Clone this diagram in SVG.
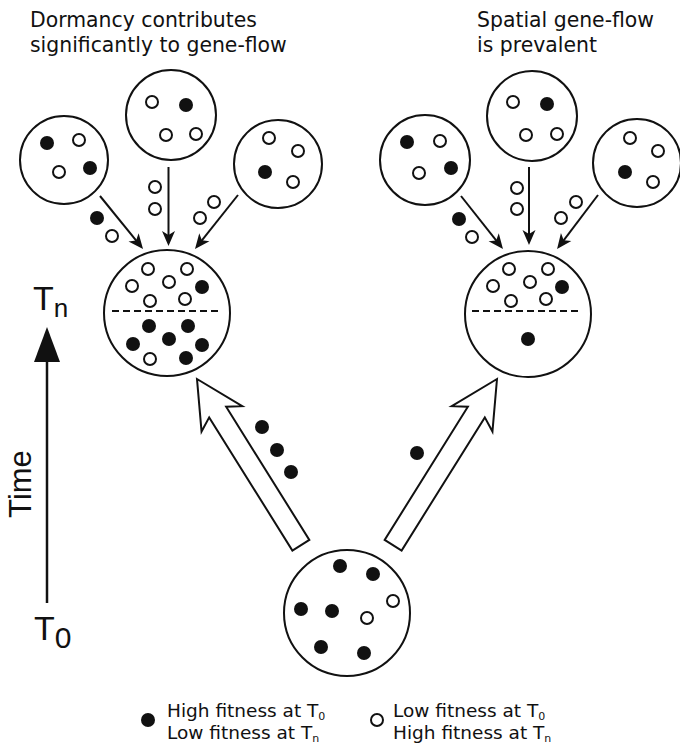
<svg xmlns="http://www.w3.org/2000/svg" width="680" height="746" viewBox="0 0 680 746">
<style>
.pop{fill:#fff;stroke:#111;stroke-width:2}
.f{fill:#111}
.o{fill:#fff;stroke:#111;stroke-width:2}
.ln{stroke:#111;stroke-width:2;fill:none}
.dash{stroke:#111;stroke-width:2;stroke-dasharray:7 4}
.big{fill:#fff;stroke:#111;stroke-width:2;stroke-linejoin:miter}
.t{font-family:"DejaVu Sans",sans-serif;fill:#111}
.a{font-family:"Liberation Sans",Arial,sans-serif;fill:#111}
</style>
<defs>
<marker id="ah" viewBox="-16 -7 17 14" refX="-4" refY="0" markerWidth="17" markerHeight="14" markerUnits="userSpaceOnUse" orient="auto">
<path d="M0,0 L-15,-6.5 L-11,0 L-15,6.5 Z" fill="#111"/>
</marker>
</defs>
<rect width="680" height="746" fill="#fff"/>

<!-- titles -->
<g id="title-left">
<text class="t" x="30" y="27" font-size="20.4">Dormancy contributes</text>
<text class="t" x="30" y="52" font-size="20.4">significantly to gene-flow</text>
</g>
<g id="title-right">
<text class="t" x="477" y="27" font-size="20.4">Spatial gene-flow</text>
<text class="t" x="477" y="52" font-size="20.4">is prevalent</text>
</g>

<!-- connectors -->
<g id="connectors">
<polygon class="big" points="0,0 24,47 10,39 10,196 -10,196 -10,39 -24,47" transform="translate(197,379) rotate(-32)"/>
<polygon class="big" points="0,0 24,47 10,39 10,196 -10,196 -10,39 -24,47" transform="translate(497,379) rotate(32)"/>
<line class="ln" x1="100" y1="196" x2="140.5" y2="245.9" marker-end="url(#ah)"/>
<line class="ln" x1="168.5" y1="167" x2="168.5" y2="242" marker-end="url(#ah)"/>
<line class="ln" x1="238" y1="195" x2="197.5" y2="245.8" marker-end="url(#ah)"/>
<line class="ln" x1="461" y1="196" x2="500.5" y2="245.9" marker-end="url(#ah)"/>
<line class="ln" x1="529" y1="167" x2="529" y2="241" marker-end="url(#ah)"/>
<line class="ln" x1="598" y1="195" x2="559.5" y2="245.8" marker-end="url(#ah)"/>
</g>

<!-- migrating individuals -->
<g id="migrants">
<circle class="f" cx="97" cy="218" r="7"/>
<circle class="o" cx="112" cy="236" r="6"/>
<circle class="o" cx="155" cy="187" r="6"/>
<circle class="o" cx="155" cy="209" r="6"/>
<circle class="o" cx="200" cy="218" r="6"/>
<circle class="o" cx="214" cy="202" r="6"/>
<circle class="f" cx="459" cy="219" r="7"/>
<circle class="o" cx="472" cy="237" r="6"/>
<circle class="o" cx="517" cy="188" r="6"/>
<circle class="o" cx="517" cy="209" r="6"/>
<circle class="o" cx="561" cy="218" r="6"/>
<circle class="o" cx="576" cy="202" r="6"/>
<circle class="f" cx="262" cy="427" r="7"/>
<circle class="f" cx="277" cy="450" r="7"/>
<circle class="f" cx="291" cy="472" r="7"/>
<circle class="f" cx="417" cy="453" r="7"/>
</g>

<!-- left group small populations -->
<g id="pop-L1">
<circle class="pop" cx="64" cy="160" r="44"/>
<circle class="f" cx="47" cy="143" r="7"/>
<circle class="o" cx="79" cy="140" r="6"/>
<circle class="o" cx="59" cy="172" r="6"/>
<circle class="f" cx="90" cy="168" r="7"/>
</g>
<g id="pop-L2">
<circle class="pop" cx="171" cy="115" r="45"/>
<circle class="o" cx="152" cy="102" r="6"/>
<circle class="f" cx="186" cy="105" r="7"/>
<circle class="o" cx="166" cy="135" r="6"/>
<circle class="o" cx="196" cy="134" r="6"/>
</g>
<g id="pop-L3">
<circle class="pop" cx="278" cy="164" r="44"/>
<circle class="o" cx="269" cy="138" r="6"/>
<circle class="o" cx="298" cy="151" r="6"/>
<circle class="f" cx="265" cy="172" r="7"/>
<circle class="o" cx="293" cy="182" r="6"/>
</g>

<!-- right group small populations -->
<g id="pop-R1">
<circle class="pop" cx="425" cy="160" r="45"/>
<circle class="f" cx="407" cy="142" r="7"/>
<circle class="o" cx="440" cy="141" r="6"/>
<circle class="o" cx="419" cy="173" r="6"/>
<circle class="f" cx="451" cy="168" r="7"/>
</g>
<g id="pop-R2">
<circle class="pop" cx="532" cy="116" r="45"/>
<circle class="o" cx="513" cy="102" r="6"/>
<circle class="f" cx="547" cy="104" r="7"/>
<circle class="o" cx="526" cy="135" r="6"/>
<circle class="o" cx="557" cy="134" r="6"/>
</g>
<g id="pop-R3">
<circle class="pop" cx="637" cy="163" r="44"/>
<circle class="o" cx="630" cy="138" r="6"/>
<circle class="o" cx="658" cy="151" r="6"/>
<circle class="f" cx="625" cy="172" r="7"/>
<circle class="o" cx="653" cy="182" r="6"/>
</g>

<!-- merged populations at Tn -->
<g id="pop-Tn-left">
<circle class="pop" cx="167" cy="313" r="63"/>
<line class="dash" x1="112" y1="311" x2="219" y2="311"/>
<circle class="o" cx="148" cy="269" r="6"/>
<circle class="o" cx="187" cy="269" r="6"/>
<circle class="o" cx="132" cy="286" r="6"/>
<circle class="o" cx="169" cy="282" r="6"/>
<circle class="f" cx="202" cy="287" r="7"/>
<circle class="o" cx="150" cy="301" r="6"/>
<circle class="o" cx="185" cy="299" r="6"/>
<circle class="f" cx="149" cy="326" r="7"/>
<circle class="f" cx="188" cy="326" r="7"/>
<circle class="f" cx="133" cy="344" r="7"/>
<circle class="f" cx="169" cy="339" r="7"/>
<circle class="f" cx="202" cy="345" r="7"/>
<circle class="o" cx="150" cy="359" r="6"/>
<circle class="f" cx="186" cy="358" r="7"/>
</g>
<g id="pop-Tn-right">
<circle class="pop" cx="528" cy="314" r="63"/>
<line class="dash" x1="472" y1="311" x2="580" y2="311"/>
<circle class="o" cx="509" cy="269" r="6"/>
<circle class="o" cx="548" cy="269" r="6"/>
<circle class="o" cx="493" cy="286" r="6"/>
<circle class="o" cx="530" cy="282" r="6"/>
<circle class="f" cx="562" cy="287" r="7"/>
<circle class="o" cx="511" cy="301" r="6"/>
<circle class="o" cx="546" cy="299" r="6"/>
<circle class="f" cx="528" cy="339" r="7"/>
</g>

<!-- source population at T0 -->
<g id="pop-T0">
<circle class="pop" cx="347" cy="613" r="63"/>
<circle class="f" cx="340" cy="566" r="7"/>
<circle class="f" cx="373" cy="574" r="7"/>
<circle class="o" cx="393" cy="601" r="6"/>
<circle class="f" cx="301" cy="609" r="7"/>
<circle class="f" cx="332" cy="611" r="7"/>
<circle class="o" cx="367" cy="618" r="6"/>
<circle class="f" cx="321" cy="647" r="7"/>
<circle class="f" cx="364" cy="653" r="7"/>
</g>

<!-- time axis -->
<g id="time-axis">
<line x1="47" y1="603" x2="47" y2="358" stroke="#111" stroke-width="2.5"/>
<polygon class="f" points="47,327 34,362 60,362"/>
<text class="a" x="33" y="310" font-size="34">T<tspan font-size="26" dy="7">n</tspan></text>
<text class="a" x="34" y="640" font-size="34">T<tspan font-size="30" dy="8">0</tspan></text>
<text class="a" font-size="31" text-anchor="middle" transform="translate(31,484) rotate(-90)">Time</text>
</g>

<!-- legend -->
<g id="legend">
<circle class="f" cx="148" cy="720" r="7"/>
<text class="t" x="167" y="716.5" font-size="18.5">High fitness at T<tspan font-size="11" dy="3">0</tspan></text>
<text class="t" x="167" y="738.5" font-size="18.5">Low fitness at T<tspan font-size="11" dy="3">n</tspan></text>
<circle class="o" cx="377" cy="720" r="6"/>
<text class="t" x="393" y="716.5" font-size="18.5">Low fitness at T<tspan font-size="11" dy="3">0</tspan></text>
<text class="t" x="393" y="738.5" font-size="18.5">High fitness at T<tspan font-size="11" dy="3">n</tspan></text>
</g>
</svg>
